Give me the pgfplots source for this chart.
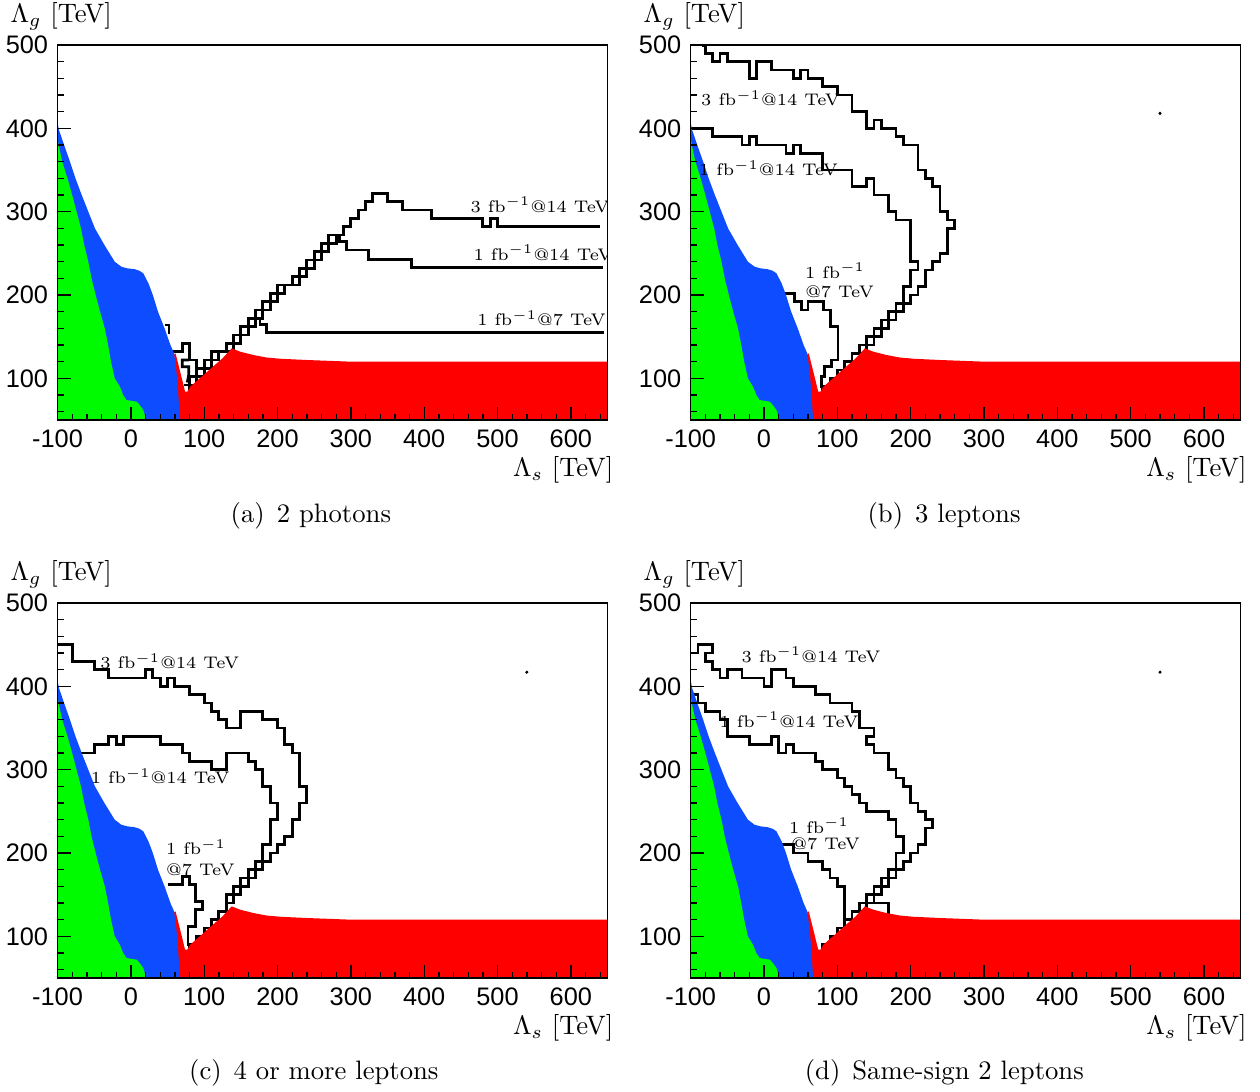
\documentclass[border=0pt]{standalone}
\usepackage{fontspec}
\usepackage{pgfplots}
\usepackage{pgfplotstable}
\pgfplotsset{compat=1.18}
\newfontfamily\ticksans{Liberation Sans}
\definecolor{cgreen}{RGB}{0,250,0}
\definecolor{cblue}{RGB}{13,77,255}
\definecolor{cred}{RGB}{255,0,0}

\pgfplotstableread{
x y
-100 50
-100 387
-98 378
-93.6 360
-86.4 340
-80 320
-74 300
-68 280
-63.6 260
-58 240
-53.6 220
-48 200
-42 180
-35.5 160
-31 140
-27 120
-22 100
-15 90
-10.5 80
-6 74
8 72
12 68
17 62
20 53
21 50
}\greentab

\pgfplotstableread{
x y
-100 50
-100 407
-98 398
-91 380
-83 360
-75.5 340
-67 320
-58 300
-49 280
-36 260
-29 250
-22 240
-13 234
-5 232
5 231
12 229
17 226
24 214
30 200
37 180
46 160
54 140
59 130
62 110
64 90
67 50
}\bluetab

\pgfplotstableread{
x y
58 50
58 128
61 130
74 84
77 84
81 90
94 100
112 114
125 124
137.5 136
149 132
167 128
185 125
204 123.5
240 122
270 121
300 120
650 120
650 50
}\redtab

\pgfplotsset{
  panel/.style={
    scale only axis, width=206.25pt, height=140.625pt,
    xmin=-100, xmax=650, ymin=50, ymax=500,
    xtick={-100,0,100,200,300,400,500,600},
    xticklabels={-100,0,100,200,300,400,500,600},
    ytick={100,200,300,400,500},
    yticklabels={100,200,300,400,500},
    minor xtick={-80,-60,...,640},
    minor ytick={60,80,...,480},
    tick align=inside, tick pos=left,
    major tick length=5pt, minor tick length=2.4pt,
    every tick/.style={black, line width=0.5pt},
    axis line style={line width=0.55pt},
    ticklabel style={font=\ticksans\fontsize{9.5}{11}\selectfont},
    axis on top,
  },
  cont/.style={black, line width=1.05pt, line join=miter, no markers},
}
\tikzset{lab/.style={font=\fontsize{6.3}{7.5}\selectfont, inner sep=0pt},
  alab/.style={font=\fontsize{10}{12}\selectfont, inner sep=0pt}}

\newcommand\drawfills{%
  \addplot[fill=cred, draw=none] table {\redtab} -- cycle;
  \addplot[fill=cblue, draw=none] table {\bluetab} -- cycle;
  \addplot[fill=cgreen, draw=none] table {\greentab} -- cycle;
}

\begin{document}
\begin{tikzpicture}
\useasboundingbox (0,0) rectangle (472.5pt,409.125pt);

% ---------------- (a) 2 photons
\begin{axis}[panel, name=pa, at={(21.5625pt,251.625pt)}, anchor=south west]
\addplot[cont] coordinates {(640,282) (500,282) (500,292) (490,292) (490,282) (480,282) (480,292) (410,292) (410,302) (370,302) (370,312) (350,312) (350,322) (330,322) (330,312) (320,312) (320,302) (310,302) (310,292) (300,292) (300,282) (290,282) (290,272) (280,272) (280,262) (270,262) (270,252) (260,252) (260,242) (250,242) (250,232) (240,232) (240,222) (230,222) (230,212) (210,212) (210,202) (200,202) (200,192) (190,192) (190,182) (180,182) (180,172) (170,172) (170,162) (160,162) (160,152) (150,152) (150,142) (140,142) (140,132) (120,132) (120,122) (110,122) (110,112) (100,112) (100,102) (90,102) (90,92) (80,92) (80,82)};
\addplot[cont] coordinates {(644,233) (383,233) (383,243) (324,243) (324,254) (294,254) (294,264) (285,264) (285,272) (270,272) (270,262) (260,262) (260,252) (250,252) (250,242) (240,242) (240,232) (230,232) (230,222) (220,222) (220,212) (200,212) (200,202) (190,202) (190,192) (180,192) (180,182) (170,182) (170,172) (160,172) (160,162) (150,162) (150,152) (140,152) (140,142) (130,142) (130,132) (110,132) (110,122) (100,122) (100,112) (90,112) (90,102) (80,102) (80,92) (72,92)};
\addplot[cont] coordinates {(645,155) (185,155) (185,165) (176,165) (176,172) (170,172) (170,162) (160,162) (160,152) (150,152) (150,142) (140,142) (140,132) (120,132) (120,122) (110,122) (110,112) (100,112) (90,112) (90,122) (80,122) (80,142) (70,142) (70,132) (50,132)};
\addplot[cont] coordinates {(79,122) (70,122) (70,114) (79,114) (79,104) (77,95)};
\addplot[cont] coordinates {(47,164) (52,164) (52,153)};
\drawfills
\node[lab] at (axis cs:558,308) {3 fb$^{-1}$@14 TeV};
\node[lab] at (axis cs:562,251) {1 fb$^{-1}$@14 TeV};
\node[lab] at (axis cs:560,172) {1 fb$^{-1}$@7 TeV};
\end{axis}
\node[alab, anchor=west] at ([xshift=-17.8pt, yshift=10.9pt]pa.north west) {$\Lambda_g$ [TeV]};
\node[alab, anchor=east] at ([xshift=2.4pt, yshift=-18.75pt]pa.south east) {$\Lambda_s$ [TeV]};
\node[alab] at ([xshift=-8.1pt, yshift=-36pt]pa.south) {(a)\hspace{0.45em}2 photons};

% ---------------- (b) 3 leptons
\begin{axis}[panel, name=pb, at={(259pt,251.625pt)}, anchor=south west]
\addplot[cont] coordinates {(-85,499) (-80,499) (-80,490) (-70,490) (-70,480) (-60,480) (-60,490) (-50,490) (-50,480) (-20,480) (-20,460) (-10,460) (-10,480) (10,480) (10,470) (40,470) (40,460) (50,460) (50,470) (60,470) (60,460) (80,460) (80,450) (100,450) (100,440) (120,440) (120,420) (140,420) (140,400) (150,400) (150,410) (160,410) (160,400) (180,400) (180,390) (190,390) (190,380) (210,380) (210,350) (220,350) (220,340) (230,340) (230,330) (240,330) (240,300) (250,300) (250,290) (260,290) (260,280) (250,280) (250,250) (240,250) (240,240) (230,240) (230,230) (220,230) (220,210) (210,210) (210,200) (200,200) (200,190) (190,190) (190,180) (180,180) (180,170) (170,170) (170,160) (160,160) (160,150) (150,150) (150,140) (140,140) (140,130) (120,130) (120,120) (110,120) (110,110) (100,110) (100,100) (90,100) (90,90) (80,90) (80,82)};
\addplot[cont] coordinates {(-100,400) (-70,400) (-70,390) (-30,390) (-30,380) (-20,380) (-20,390) (-10,390) (-10,380) (30,380) (30,370) (40,370) (40,380) (50,380) (50,370) (80,370) (80,350) (120,350) (120,330) (140,330) (140,340) (150,340) (150,320) (170,320) (170,300) (180,300) (180,290) (200,290) (200,240) (210,240) (210,230) (200,230) (200,210) (190,210) (190,190) (180,190) (180,180) (170,180) (170,170) (160,170) (160,160) (150,160) (150,150) (140,150) (140,140) (130,140) (130,130) (120,130) (120,120) (110,120) (110,110) (100,110) (100,100) (90,100) (90,90) (80,90) (80,82)};
\addplot[cont] coordinates {(22,202) (42,202) (42,192) (51,192) (51,182) (60,182) (60,192) (81,192) (81,182) (91,182) (91,162) (101,162) (101,122) (92,122) (92,114) (83,114) (83,102) (78,102) (78,88)};
\drawfills
\addplot[only marks, mark=*, mark size=0.35pt, black] coordinates {(540,418)};
\node[lab] at (axis cs:9,436) {3 fb$^{-1}$@14 TeV};
\node[lab] at (axis cs:6,352) {1 fb$^{-1}$@14 TeV};
\node[lab] at (axis cs:97,229) {1 fb$^{-1}$};
\node[lab] at (axis cs:103,204) {@7 TeV};
\end{axis}
\node[alab, anchor=west] at ([xshift=-17.8pt, yshift=10.9pt]pb.north west) {$\Lambda_g$ [TeV]};
\node[alab, anchor=east] at ([xshift=2.4pt, yshift=-18.75pt]pb.south east) {$\Lambda_s$ [TeV]};
\node[alab] at ([xshift=-8.1pt, yshift=-36pt]pb.south) {(b)\hspace{0.45em}3 leptons};

% ---------------- (c) 4 or more leptons
\begin{axis}[panel, name=pc, at={(21.5625pt,42.375pt)}, anchor=south west]
\addplot[cont] coordinates {(-100,450) (-80,450) (-80,430) (-50,430) (-50,420) (-30,420) (-30,410) (20,410) (20,420) (30,420) (30,410) (40,410) (40,400) (50,400) (50,410) (60,410) (60,400) (80,400) (80,390) (100,390) (100,380) (110,380) (110,370) (120,370) (120,360) (130,360) (130,350) (150,350) (150,370) (180,370) (180,360) (200,360) (200,350) (210,350) (210,330) (220,330) (220,320) (230,320) (230,280) (240,280) (240,260) (230,260) (230,240) (220,240) (220,220) (210,220) (210,210) (200,210) (200,200) (190,200) (190,190) (180,190) (180,180) (170,180) (170,170) (160,170) (160,160) (150,160) (150,150) (140,150) (140,140) (130,140) (130,130) (120,130) (120,120) (110,120) (110,110) (100,110) (100,100) (90,100) (90,90) (80,90) (80,82)};
\addplot[cont] coordinates {(-100,320) (-50,320) (-50,330) (-30,330) (-30,340) (-20,340) (-20,330) (-10,330) (-10,340) (40,340) (40,330) (70,330) (70,320) (80,320) (80,310) (110,310) (110,300) (130,300) (130,320) (160,320) (160,310) (170,310) (170,300) (180,300) (180,280) (190,280) (190,260) (200,260) (200,240) (190,240) (190,210) (180,210) (180,190) (170,190) (170,180) (160,180) (160,170) (150,170) (150,160) (140,160) (140,150) (130,150) (130,130) (120,130) (120,120) (110,120) (110,110) (100,110) (100,100) (90,100) (90,90) (80,90) (80,82)};
\addplot[cont] coordinates {(50,162) (70,162) (70,172) (80,172) (80,162) (88,162) (88,142) (98,142) (98,132) (88,132) (88,112) (78,112) (78,88)};
\drawfills
\addplot[only marks, mark=*, mark size=0.35pt, black] coordinates {(540,417)};
\node[lab] at (axis cs:53,430) {3 fb$^{-1}$@14 TeV};
\node[lab] at (axis cs:40,292) {1 fb$^{-1}$@14 TeV};
\node[lab] at (axis cs:89,207) {1 fb$^{-1}$};
\node[lab] at (axis cs:95,180) {@7 TeV};
\end{axis}
\node[alab, anchor=west] at ([xshift=-17.8pt, yshift=10.9pt]pc.north west) {$\Lambda_g$ [TeV]};
\node[alab, anchor=east] at ([xshift=2.4pt, yshift=-18.75pt]pc.south east) {$\Lambda_s$ [TeV]};
\node[alab] at ([xshift=-7pt, yshift=-35.6pt]pc.south) {(c)\hspace{0.45em}4 or more leptons};

% ---------------- (d) Same-sign 2 leptons
\begin{axis}[panel, name=pd, at={(259pt,42.375pt)}, anchor=south west]
\addplot[cont] coordinates {(-100,440) (-90,440) (-90,450) (-70,450) (-70,440) (-80,440) (-80,430) (-70,430) (-70,420) (-60,420) (-60,410) (-50,410) (-50,420) (-30,420) (-30,410) (0,410) (0,400) (10,400) (10,420) (30,420) (30,410) (40,410) (40,400) (70,400) (70,390) (90,390) (90,380) (120,380) (120,370) (130,370) (130,350) (150,350) (150,340) (140,340) (140,330) (150,330) (150,320) (170,320) (170,300) (180,300) (180,290) (190,290) (190,280) (200,280) (200,260) (210,260) (210,250) (220,250) (220,240) (230,240) (230,230) (220,230) (220,210) (210,210) (210,200) (200,200) (200,190) (190,190) (190,180) (180,180) (180,170) (170,170) (170,160) (160,160) (160,150) (150,150) (150,140) (140,140) (140,130) (120,130) (120,120) (110,120) (110,110) (100,110) (100,100) (90,100) (90,90) (80,90) (80,82)};
\addplot[cont] coordinates {(-100,390) (-90,390) (-90,380) (-80,380) (-80,370) (-60,370) (-60,360) (-50,360) (-50,340) (-20,340) (-20,330) (10,330) (10,340) (20,340) (20,320) (30,320) (30,330) (40,330) (40,320) (70,320) (70,310) (80,310) (80,300) (100,300) (100,290) (110,290) (110,280) (120,280) (120,270) (130,270) (130,260) (140,260) (140,250) (170,250) (170,240) (180,240) (180,220) (190,220) (190,200) (180,200) (180,180) (170,180) (170,170) (160,170) (160,160) (150,160) (150,150) (140,150) (140,140) (130,140) (130,130) (120,130) (120,120) (110,120) (110,110) (100,110) (100,100) (90,100) (90,90) (80,90) (80,82)};
\addplot[cont] coordinates {(150,140) (170,140) (170,125)};
\addplot[cont] coordinates {(20,210) (40,210) (40,200) (60,200) (60,190) (80,190) (80,180) (90,180) (90,170) (100,170) (100,160) (110,160) (110,110) (100,110) (100,100) (90,100) (90,90) (80,90) (80,82)};
\drawfills
\addplot[only marks, mark=*, mark size=0.35pt, black] coordinates {(540,417)};
\node[lab] at (axis cs:64,438) {3 fb$^{-1}$@14 TeV};
\node[lab] at (axis cs:34,360) {1 fb$^{-1}$@14 TeV};
\node[lab] at (axis cs:75,233) {1 fb$^{-1}$};
\node[lab] at (axis cs:84,211) {@7 TeV};
\end{axis}
\node[alab, anchor=west] at ([xshift=-17.8pt, yshift=10.9pt]pd.north west) {$\Lambda_g$ [TeV]};
\node[alab, anchor=east] at ([xshift=2.4pt, yshift=-18.75pt]pd.south east) {$\Lambda_s$ [TeV]};
\node[alab] at ([xshift=-8pt, yshift=-35.6pt]pd.south) {(d)\hspace{0.45em}Same-sign 2 leptons};
\end{tikzpicture}
\end{document}
